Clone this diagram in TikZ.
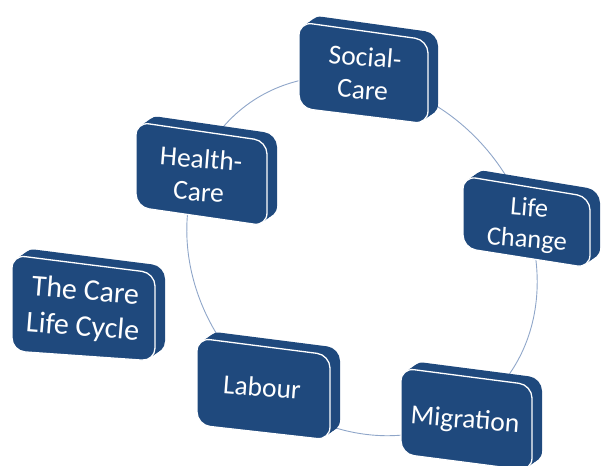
\documentclass[tikz,border=0pt]{standalone}
\usepackage{fontspec}
\setmainfont{Carlito}
\definecolor{boxblue}{HTML}{1F497D}
\definecolor{ringblue}{HTML}{8FA6C9}
\tikzset{
  frontface/.style={fill=boxblue, draw=white, line width=1.3pt, rounded corners=13pt},
  backface/.style={fill=boxblue, rounded corners=13pt},
  lbl/.style={text=white, align=center, inner sep=0pt, rotate=-4.5,
              font=\fontsize{27.5}{33}\selectfont},
  ring/.style={draw=ringblue, line width=0.9pt}
}
% #1 x, #2 y (top-left, screen px), #3 width, #4 left height, #5 right height, #6 skew
\newcommand\carebox[6]{%
  \foreach \t in {0.25,0.5,0.75,1}{%
    \fill[backface, shift={(10*\t,-7*\t)}] (#1,#2) -- (#1+#3,#2+#6) -- (#1+#3,#2+#6+#5) -- (#1,#2+#4) -- cycle;}
  \filldraw[frontface] (#1,#2) -- (#1+#3,#2+#6) -- (#1+#3,#2+#6+#5) -- (#1,#2+#4) -- cycle;
}
\begin{document}
\begin{tikzpicture}[x=1pt, y=-1pt]
  \useasboundingbox (0,0) rectangle (603,466);
  \coordinate (c) at (362,256);
  \draw[ring, rotate around={-50:(c)}] (c) ellipse [x radius=190pt, y radius=164pt];

  \carebox{299}{22}{129}{86}{84}{18}
  \node[lbl] (social) at (364,73) {Social-\\Care};

  \carebox{136}{122}{131}{85}{85}{19}
  \node[lbl] (health) at (200,175) {Health-\\Care};

  \carebox{463}{176}{127}{72}{71}{21}
  \node[lbl, font=\fontsize{26.5}{31}\selectfont] (life) at (528,225) {Life\\Change};

  \carebox{197}{338}{133}{87}{85}{17}
  \node[lbl] (labour) at (262,387) {Labour};

  \carebox{401}{368}{131}{86}{86}{17}
  \node[lbl] (migration) at (465,421) {Migration};

  \carebox{12}{255}{143}{96}{88}{18}
  \node[lbl, font=\fontsize{30}{36}\selectfont] (title) at (84,310) {The Care\\Life Cycle};
\end{tikzpicture}
\end{document}
